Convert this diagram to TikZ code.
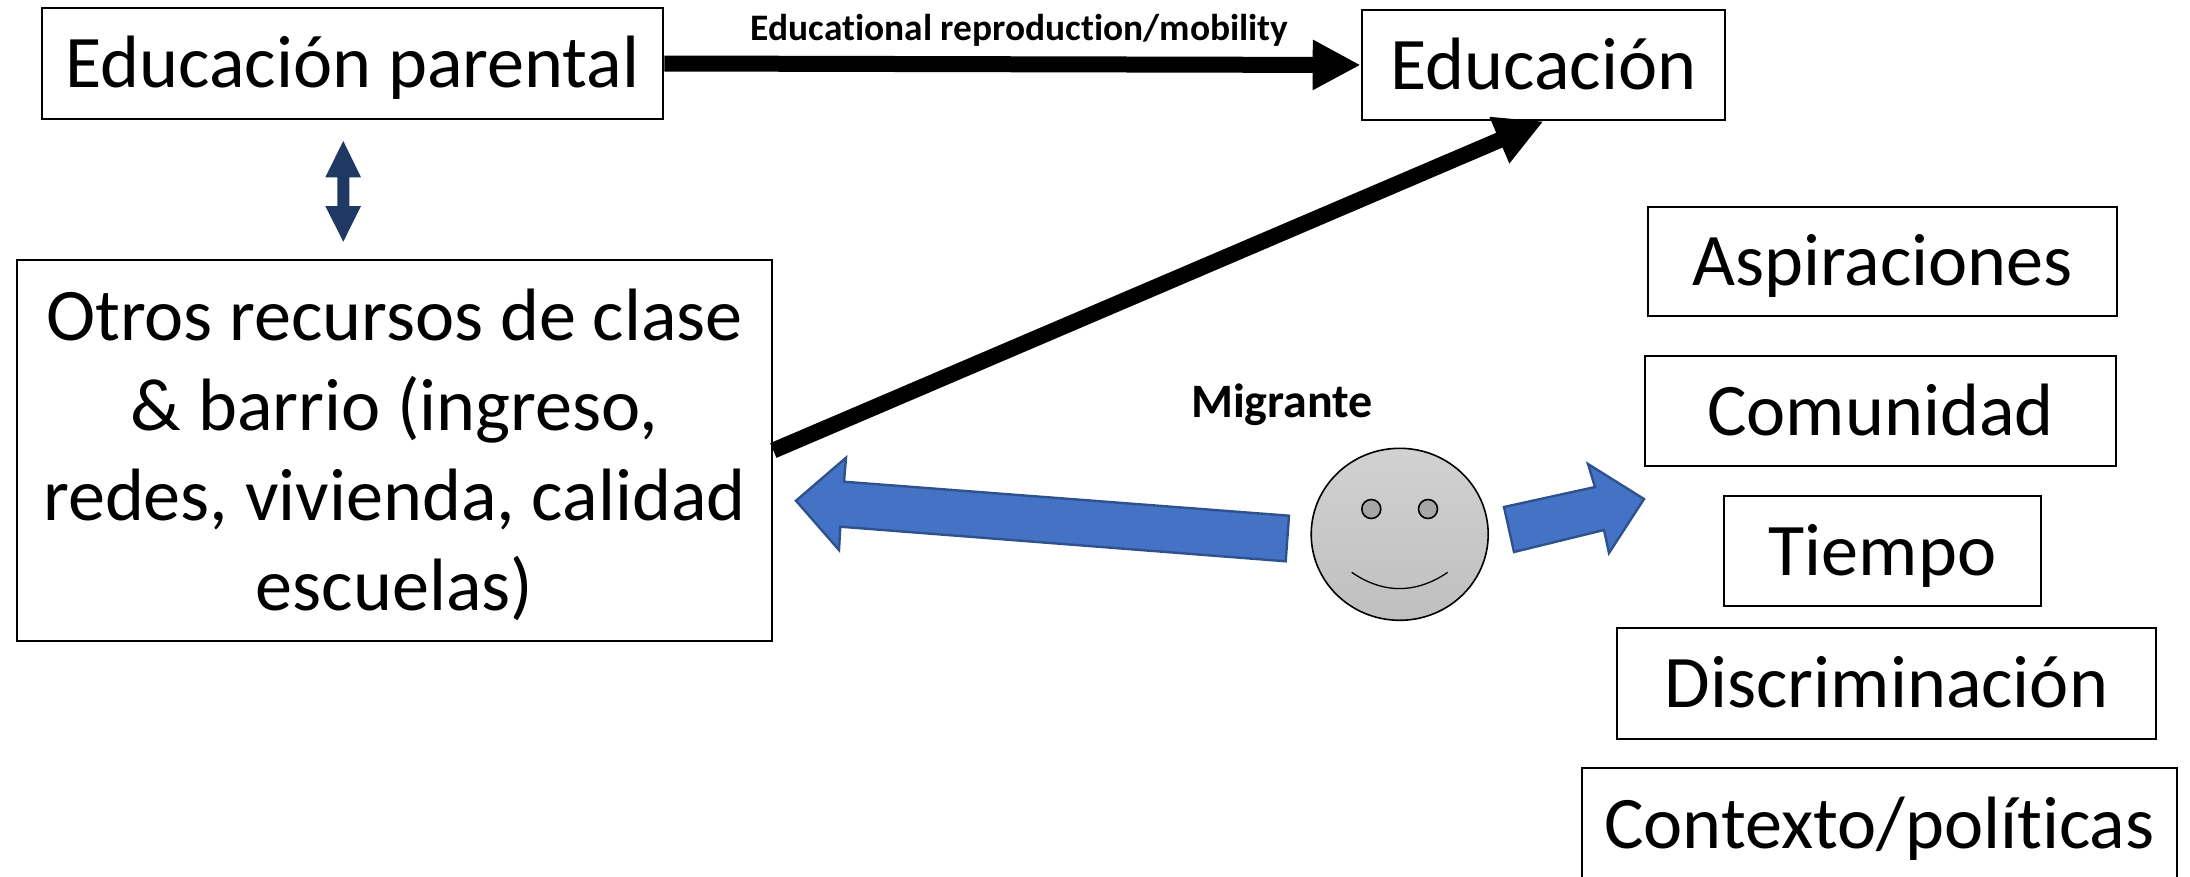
\documentclass[tikz,border=0pt]{standalone}
\usepackage{fontspec}
\setmainfont[Ligatures=NoCommon]{Carlito}
\usetikzlibrary{arrows.meta,shapes.geometric}
\definecolor{blueface}{HTML}{4472C4}
\definecolor{blueedge}{HTML}{2F528F}
\definecolor{navyarrow}{HTML}{1F3864}
\tikzset{
  box/.style={draw=black,line width=2.6pt,fill=white,inner sep=0pt,align=flush center,font=\fontsize{74.2}{90}\selectfont},
  oneline/.style={box,text height=63pt,text depth=15pt},
  boldlabel/.style={inner sep=0pt,anchor=base,font=\bfseries},
  thickarrow/.style={line width=16pt,-{Triangle[length=48pt,width=47pt]}},
  bluearrow/.style={fill=blueface,draw=blueedge,line width=2.4pt,line join=miter},
  face/.style={draw=black,line width=1.6pt,ellipse,inner sep=0pt}
}
\begin{document}
\begin{tikzpicture}[x=1pt,y=-1pt]
\useasboundingbox (0,0) rectangle (2190,876);
\fill[white] (0,0) rectangle (2190,876);
% boxes
\node[oneline,minimum width=621pt,minimum height=111pt] (ep) at (352.5,63.5) {Educación parental};
\node[oneline,minimum width=363pt,minimum height=110pt] (edu) at (1543.5,65) {Educación};
\node[box,minimum width=755pt,minimum height=381pt,text width=750pt] (otros) at (394.5,450.5) {\rule{0pt}{61pt}Otros recursos de clase\\\& barrio (ingreso,\\redes, vivienda, calidad\\escuelas)};
\node[oneline,minimum width=469pt,minimum height=109pt] (asp) at (1882.5,261.5) {Aspiraciones};
\node[oneline,minimum width=471pt,minimum height=110pt] (com) at (1880.5,411) {Comunidad};
\node[oneline,minimum width=317pt,minimum height=110pt] (tie) at (1882.5,551) {Tiempo};
\node[oneline,minimum width=539pt,minimum height=111pt] (dis) at (1886.5,683.5) {Discriminación};
\node[oneline,minimum width=595pt,minimum height=112pt] (con) at (1879.5,824) {Contexto/políticas};
% connectors
\draw[thickarrow] (ep.east) -- (edu.west);
\draw[thickarrow] (otros.east) -- (edu.south);
\node[boldlabel,font=\fontsize{37.4}{44}\selectfont\bfseries] (lab) at (1019.5,40.7) {Educational reproduction/mobility};
\node[boldlabel,font=\fontsize{48}{56}\selectfont\bfseries] (mig) at (1282,417) {Migrante};
% double arrow
\fill[navyarrow] (343.3,141) -- (361,177.3) -- (349.3,177.3) -- (349.3,206) -- (361,206) -- (343.3,241.7) -- (325.3,206) -- (337.3,206) -- (337.3,177.3) -- (325.3,177.3) -- cycle;
% blue arrows
\draw[bluearrow] (796,500.7) -- (846,457.7) -- (844,481.7) -- (1289,515.7) -- (1285.7,561.3) -- (840.3,526.7) -- (839,550) -- cycle;
\draw[bluearrow] (1504,507) -- (1595,487) -- (1588,464) -- (1644,499) -- (1609,553) -- (1604,530) -- (1514,552) -- cycle;
% smiley
\node[face,minimum width=177pt,minimum height=172pt,top color=black!18,bottom color=black!25] (head) at (1399.7,534.3) {};
\node[face,fill=black!35,minimum size=19pt] (eyeL) at (1371.3,509) {};
\node[face,fill=black!35,minimum size=19pt] (eyeR) at (1428,509) {};
\coordinate (mouthL) at (1351.7,572.3);
\coordinate (mouthR) at (1447.7,572.3);
\draw[line width=1.3pt] (mouthL) .. controls (1383,594) and (1416,594) .. (mouthR);
\end{tikzpicture}
\end{document}
